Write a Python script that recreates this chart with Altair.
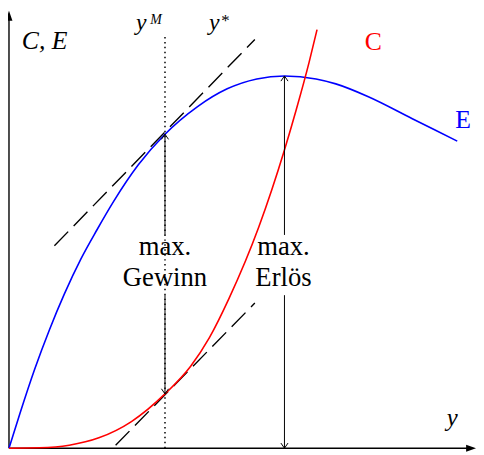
import altair as alt
import pandas as pd

# ---- values (origin of the axes = 0,0) ----
# Revenue curve E
e_x = [0, 11, 26, 41, 56, 73, 89, 106, 131, 158, 191, 221, 251, 279, 311, 331, 364, 408, 454]
e_val = [0, 35, 80, 120, 156, 192, 221, 250, 287, 318, 346, 364, 374, 377, 374, 369, 356, 334, 311]
# Cost curve C
c_x = [0, 31, 61, 91, 124, 158, 184, 203, 223, 253, 279, 291, 304, 312]
c_val = [0, 0.4, 3, 10.5, 27, 55, 83, 112, 152, 224, 302, 343, 391, 424]
# Tangents (parallel, dashed)
tan_e_x = [46, 249]
tan_e_val = [205, 414]
tan_c_x = [108, 249]
tan_c_val = [3, 147]
# Marked outputs
y_m = 158          # profit maximum
y_rev = 279        # revenue maximum
e_at_ym, c_at_ym = 318, 55
e_at_yrev = 377
gap_top, gap_bottom = 216, 155   # arrow interrupted for the labels
dotted_top = 419
x_axis_end = 473
y_axis_end = 443

FONT = "Liberation Serif"

xs = alt.Scale(domain=[-1, 473], nice=False, zero=False)
ys = alt.Scale(domain=[-2, 443], nice=False, zero=False)
X = lambda f="x": alt.X(f"{f}:Q", scale=xs, axis=None)
Y = lambda f="y": alt.Y(f"{f}:Q", scale=ys, axis=None)

def curve(xv, yv, color, width=1.6, dash=None, interp="monotone"):
    df = pd.DataFrame({"x": xv, "y": yv})
    kw = dict(color=color, strokeWidth=width, interpolate=interp)
    if dash:
        kw["strokeDash"] = dash
    return alt.Chart(df).mark_line(**kw).encode(x=X(), y=Y(), order="x:Q")

def seg(x1, y1, x2, y2, width=1.0, dash=None, color="black"):
    df = pd.DataFrame({"x": [x1], "y": [y1], "x2": [x2], "y2": [y2]})
    kw = dict(color=color, strokeWidth=width)
    if dash:
        kw["strokeDash"] = dash
    return alt.Chart(df).mark_rule(**kw).encode(x=X(), y=Y(), x2="x2:Q", y2="y2:Q")

def head(x, y, path, size=64, filled=False, width=1.0):
    df = pd.DataFrame({"x": [x], "y": [y]})
    if filled:
        m = alt.Chart(df).mark_point(shape=path, size=size, filled=True, color="black",
                                     opacity=1, strokeWidth=0)
    else:
        m = alt.Chart(df).mark_point(shape=path, size=size, filled=False, color="black",
                                     opacity=1, strokeWidth=width)
    return m.encode(x=X(), y=Y())

def label(x, y, text, color="black", size=27, style="normal", align="center"):
    df = pd.DataFrame({"x": [x], "y": [y], "t": [text]})
    return alt.Chart(df).mark_text(font=FONT, fontSize=size, fontStyle=style, color=color,
                                   align=align, baseline="alphabetic").encode(
        x=X(), y=Y(), text="t:N")

UP = "M-0.9,1.3L0,0L0.9,1.3"
DOWN = "M-0.9,-1.3L0,0L0.9,-1.3"
RIGHT_T = "M0,0L-2,-0.7L-2,0.7Z"
UP_T = "M0,0L-0.7,2L0.7,2Z"

layers = [
    # axes
    seg(0, 0, x_axis_end - 8, 0, width=1.4),
    seg(0, 0, 0, y_axis_end - 8, width=1.4),
    head(x_axis_end, 0, RIGHT_T, size=100, filled=True),
    head(0, y_axis_end, UP_T, size=100, filled=True),
    # dotted vertical at y^M
    seg(y_m, 0, y_m, dotted_top, width=1.5, dash=[1.5, 3.5]),
    # tangents
    curve(tan_e_x, tan_e_val, "black", width=1.4, dash=[20, 8], interp="linear"),
    curve(tan_c_x, tan_c_val, "black", width=1.4, dash=[20, 8], interp="linear"),
    # curves
    curve(e_x, e_val, "#0000ff"),
    curve(c_x, c_val, "#ff0000"),
    # profit arrow
    seg(y_m, e_at_ym, y_m, gap_top),
    seg(y_m, gap_bottom, y_m, c_at_ym),
    head(y_m, e_at_ym, UP),
    head(y_m, c_at_ym, DOWN),
    # revenue arrow
    seg(y_rev, e_at_yrev, y_rev, gap_top),
    seg(y_rev, gap_bottom, y_rev, 0),
    head(y_rev, e_at_yrev, UP),
    head(y_rev, 0, DOWN),
    # texts
    label(y_m, 196, "max."),
    label(y_m, 164, "Gewinn"),
    label(y_rev - 1, 196, "max."),
    label(y_rev - 1, 164, "Erlös"),
    label(13, 404, "C, E", style="italic", align="left", size=26),
    label(369, 403, "C", color="#ff0000", size=26),
    label(460, 324, "E", color="#0000ff", size=26),
    label(449, 23, "y", style="italic", size=25),
    label(134, 424, "y", style="italic", size=24),
    label(143, 430, "M", style="italic", size=14, align="left"),
    label(208, 424, "y", style="italic", size=24),
    label(215, 428, "*", size=17, align="left"),
]

chart = alt.layer(*layers).properties(
    width=474, height=445, padding=0,
    autosize=alt.AutoSizeParams(type="none"),
).configure_view(stroke=None)

chart.save("out.html", embed_options={"renderer": "svg", "actions": False})
